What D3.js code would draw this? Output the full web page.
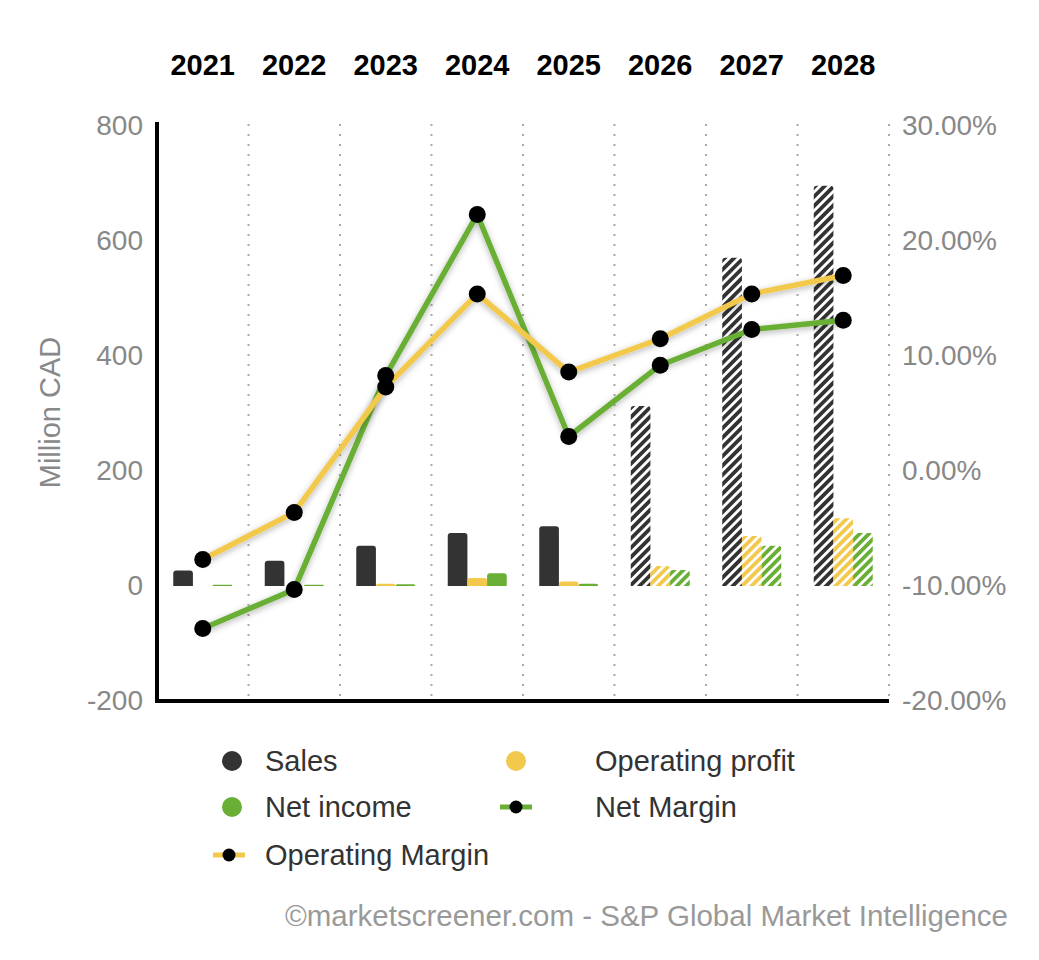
<!DOCTYPE html>
<html>
<head>
<meta charset="utf-8">
<script src="https://cdn.jsdelivr.net/npm/d3@7"></script>
<style>
  body { margin: 0; background: #fff; }
  svg { display: block; font-family: "Liberation Sans", Arial, sans-serif; }
</style>
</head>
<body>
<div id="chart"></div>
<script>
// data
const years = ["2021", "2022", "2023", "2024", "2025", "2026", "2027", "2028"];
const forecast = ["2026", "2027", "2028"];
const sales = [27, 44, 70, 92, 104, 313, 571, 696];
const operatingProfit = [0, 0, 4, 14, 8, 35, 87, 118];
const netIncome = [2, 2, 3, 22, 4, 28, 70, 92];
const netMargin = [-13.7, -10.3, 8.3, 22.3, 3.0, 9.2, 12.3, 13.1];
const operatingMargin = [-7.7, -3.6, 7.3, 15.4, 8.6, 11.5, 15.4, 17.0];
const leftTicks = [-200, 0, 200, 400, 600, 800];
const rightTicks = [-20, -10, 0, 10, 20, 30];

const width = 1039, height = 960;
const plotLeft = 157, plotRight = 889, plotTop = 126, plotBottom = 701;

const colors = { sales: "#333333", op: "#f2c94c", ni: "#6aaf35" };

const svg = d3.select("#chart").append("svg")
  .attr("width", width).attr("height", height);

const defs = svg.append("defs");
const hatch = (id, col) => {
  const p = defs.append("pattern")
    .attr("id", id).attr("patternUnits", "userSpaceOnUse")
    .attr("width", 6.6).attr("height", 6.6)
    .attr("patternTransform", "rotate(45)");
  p.append("rect").attr("width", 6.6).attr("height", 6.6).attr("fill", "#fff");
  p.append("rect").attr("width", 3.8).attr("height", 6.6).attr("fill", col);
};
hatch("h-sales", colors.sales);
hatch("h-op", colors.op);
hatch("h-ni", colors.ni);

const shadow = defs.append("filter").attr("id", "shadow")
  .attr("x", "-10%").attr("y", "-10%").attr("width", "120%").attr("height", "130%");
shadow.append("feDropShadow")
  .attr("dx", 0).attr("dy", 2).attr("stdDeviation", 3)
  .attr("flood-color", "#000").attr("flood-opacity", 0.3);

// scales
const x = d3.scaleBand().domain(years).range([plotLeft, plotRight]).padding(0);
const yL = d3.scaleLinear().domain([-200, 800]).range([plotBottom, plotTop]);
const yR = d3.scaleLinear().domain([-20, 30]).range([plotBottom, plotTop]);
const series = ["sales", "op", "ni"];
const xs = d3.scaleBand().domain(series).range([0, 59]);

// dotted vertical gridlines
const gridX = years.slice(1).map(d => x(d)).concat([plotRight]);
svg.append("g").selectAll("line").data(gridX).join("line")
  .attr("x1", d => d).attr("x2", d => d)
  .attr("y1", plotTop - 2).attr("y2", plotBottom)
  .attr("stroke", "#aaa").attr("stroke-width", 2)
  .attr("stroke-dasharray", "2,8");

// axes
const axL = svg.append("g").attr("transform", `translate(${plotLeft},0)`)
  .call(d3.axisLeft(yL).tickValues(leftTicks).tickSize(0).tickPadding(14)
    .tickFormat(d => String(d)));
const axR = svg.append("g").attr("transform", `translate(${plotRight},0)`)
  .call(d3.axisRight(yR).tickValues(rightTicks).tickSize(0).tickPadding(13)
    .tickFormat(d => d.toFixed(2) + "%"));
[axL, axR].forEach(a => {
  a.select(".domain").remove();
  a.selectAll("text").attr("fill", "#888").style("font-size", "28px")
    .style("font-family", "'Liberation Sans', Arial, sans-serif");
});
svg.append("line").attr("x1", plotLeft).attr("x2", plotLeft)
  .attr("y1", plotTop - 4).attr("y2", plotBottom + 2)
  .attr("stroke", "#000").attr("stroke-width", 4);
svg.append("line").attr("x1", plotLeft - 2).attr("x2", plotRight)
  .attr("y1", plotBottom).attr("y2", plotBottom)
  .attr("stroke", "#000").attr("stroke-width", 4);

svg.append("text")
  .attr("transform", `translate(60,${(plotTop + plotBottom) / 2 - 1}) rotate(-90)`)
  .attr("text-anchor", "middle").attr("fill", "#888")
  .style("font-size", "29px").text("Million CAD");

// year labels
svg.append("g").selectAll("text").data(years).join("text")
  .attr("x", d => x(d) + x.bandwidth() / 2).attr("y", 75)
  .attr("text-anchor", "middle").attr("fill", "#000")
  .style("font-size", "29px").style("font-weight", "bold")
  .text(d => d);

// bars
const barPath = (x0, w, y0, y1) => {
  const h = y0 - y1;
  if (h <= 0.5) return `M${x0},${y0 - 1}h${w}v1h${-w}Z`;
  const r = Math.min(3, h, w / 2);
  return `M${x0},${y0}V${y1 + r}Q${x0},${y1} ${x0 + r},${y1}H${x0 + w - r}Q${x0 + w},${y1} ${x0 + w},${y1 + r}V${y0}Z`;
};
const barData = [];
years.forEach((yr, i) => {
  const vals = { sales: sales[i], op: operatingProfit[i], ni: netIncome[i] };
  series.forEach(s => barData.push({ yr, s, v: vals[s], fc: forecast.includes(yr) }));
});
const gx = x.bandwidth() / 2 - 29.5;
svg.append("g").selectAll("path").data(barData.filter(d => d.v > 0)).join("path")
  .attr("d", d => barPath(x(d.yr) + gx + xs(d.s), xs.bandwidth(), yL(0), yL(d.v)))
  .attr("fill", d => d.fc ? `url(#h-${d.s})` : colors[d.s]);

// margin lines
const line = d3.line()
  .x((d, i) => x(years[i]) + x.bandwidth() / 2)
  .y(d => yR(d));
[[netMargin, colors.ni], [operatingMargin, colors.op]].forEach(([vals, col]) => {
  svg.append("path").datum(vals)
    .attr("d", line).attr("fill", "none")
    .attr("stroke", col).attr("stroke-width", 5.5)
    .attr("stroke-linejoin", "round")
    .attr("filter", "url(#shadow)");
});
[netMargin, operatingMargin].forEach(vals => {
  svg.append("g").selectAll("circle").data(vals).join("circle")
    .attr("cx", (d, i) => x(years[i]) + x.bandwidth() / 2)
    .attr("cy", d => yR(d)).attr("r", 8.5).attr("fill", "#000");
});

// legend
const legend = [
  { label: "Sales", type: "dot", col: colors.sales, x: 232, y: 761 },
  { label: "Operating profit", type: "dot", col: colors.op, x: 516, y: 761 },
  { label: "Net income", type: "dot", col: colors.ni, x: 232, y: 807 },
  { label: "Net Margin", type: "line", col: colors.ni, x: 516, y: 807 },
  { label: "Operating Margin", type: "line", col: colors.op, x: 229, y: 855 }
];
const lg = svg.append("g").selectAll("g").data(legend).join("g")
  .attr("transform", d => `translate(${d.x},${d.y})`);
lg.filter(d => d.type === "dot").append("circle").attr("r", 10).attr("fill", d => d.col);
lg.filter(d => d.type === "line").append("line")
  .attr("x1", -16).attr("x2", 16).attr("stroke", d => d.col).attr("stroke-width", 5);
lg.filter(d => d.type === "line").append("circle").attr("r", 6.5).attr("fill", "#000");
lg.append("text")
  .attr("x", d => d.x < 300 ? 265 - d.x : 595 - d.x).attr("dy", "0.35em")
  .attr("fill", "#333").style("font-size", "29px")
  .text(d => d.label);

svg.append("text")
  .attr("x", 1008).attr("y", 916).attr("dy", "0.35em")
  .attr("text-anchor", "end").attr("fill", "#999")
  .style("font-size", "29.5px")
  .text("©marketscreener.com - S&P Global Market Intelligence");
</script>
</body>
</html>
